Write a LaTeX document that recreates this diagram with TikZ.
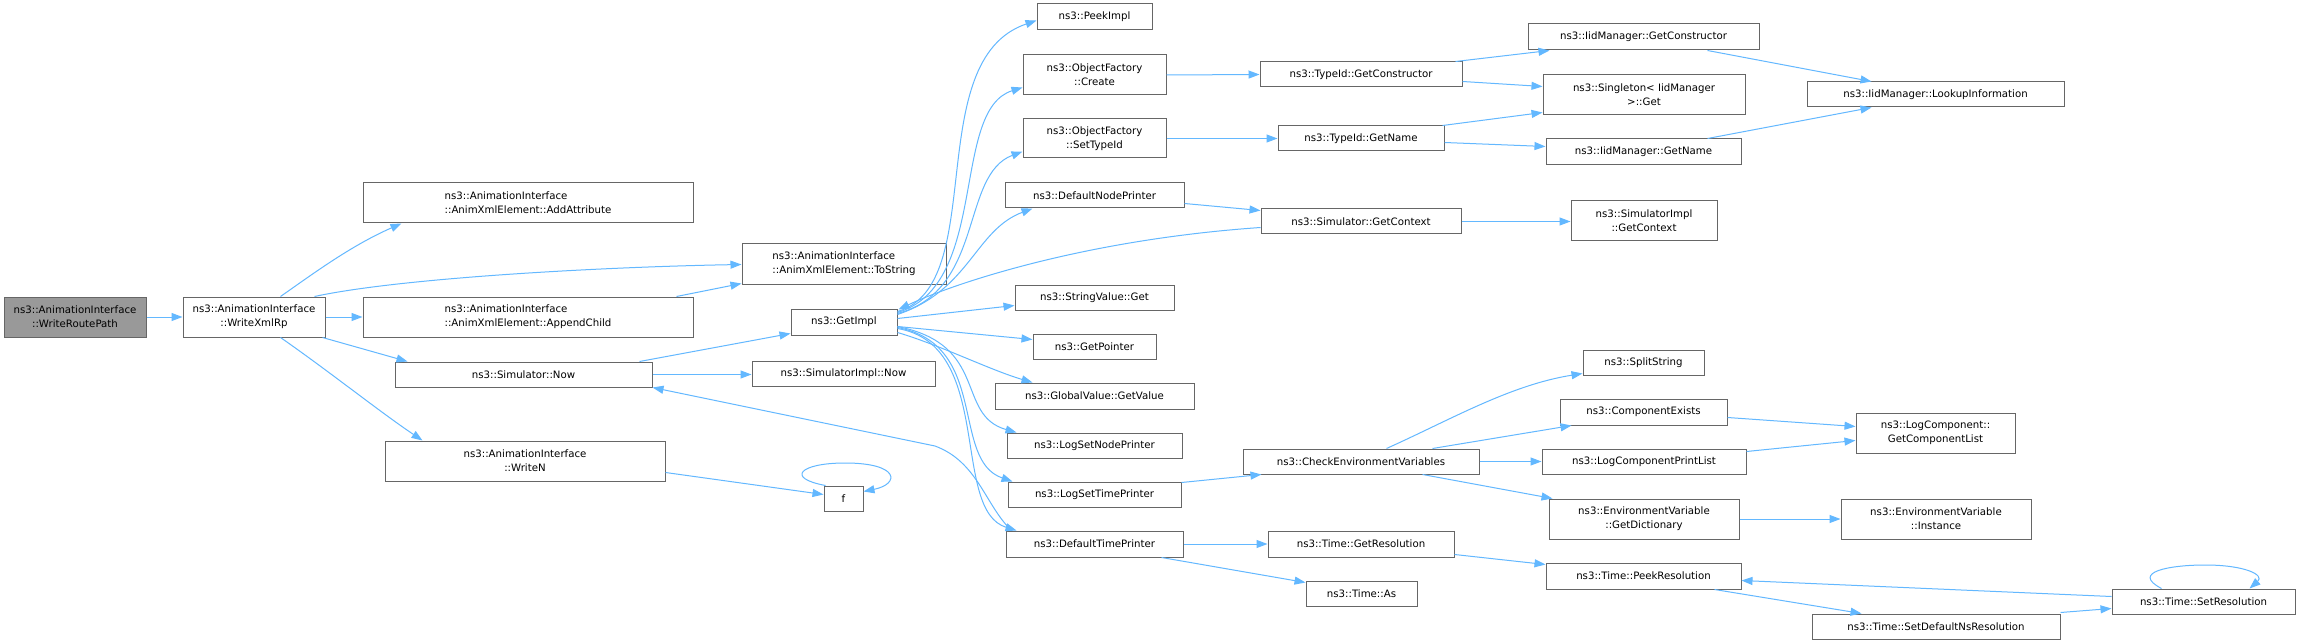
\documentclass[tikz,border=0pt]{standalone}
\usepackage{fontspec}
\setmainfont{DejaVu Sans}
\usetikzlibrary{arrows.meta,calc}
\definecolor{edgecol}{HTML}{63B8FF}
\definecolor{bordcol}{HTML}{666666}
\definecolor{rootfill}{HTML}{999999}
\newcommand\mkbox[7][]{%
  \node[box,#1,minimum width={#5-#3},minimum height={#6-#4}] (#2) at ({(#3+#5)/2},{(#4+#6)/2}) {#7};}
\tikzset{
  box/.style={draw=bordcol, fill=white, inner sep=0pt, line width=1pt, align=center,
    font=\fontsize{10.2}{14.3}\selectfont, text=black},
  rootbox/.style={fill=rootfill},
  edge/.style={draw=edgecol, line width=1pt, -{Triangle[length=11pt,width=8pt]}},
}
\begin{document}
\begin{tikzpicture}[x=1pt,y=-1pt]
\useasboundingbox[fill=white] (0,0) rectangle (2301,644);
% nodes
\mkbox[rootbox]{wrp}{4}{297}{146}{337}{ns3::AnimationInterface\\::WriteRoutePath}
\mkbox{wxr}{183}{297}{325}{337}{ns3::AnimationInterface\\::WriteXmlRp}
\mkbox[align=left]{addattr}{363}{183}{693}{223}{ns3::AnimationInterface\\::AnimXmlElement::AddAttribute}
\mkbox[align=left]{append}{363}{297}{693}{337}{ns3::AnimationInterface\\::AnimXmlElement::AppendChild}
\mkbox{now}{395}{362}{652}{387}{ns3::Simulator::Now}
\mkbox{writen}{385}{441}{665}{481}{ns3::AnimationInterface\\::WriteN}
\mkbox[align=left]{tostr}{742}{244}{946}{284}{ns3::AnimationInterface\\::AnimXmlElement::ToString}
\mkbox{getimpl}{791}{309}{897}{335}{ns3::GetImpl}
\mkbox{simnow}{752}{361}{935}{386}{ns3::SimulatorImpl::Now}
\mkbox{f}{824}{486}{863}{511}{f}
\mkbox{peek}{1037}{4}{1152}{30}{ns3::PeekImpl}
\mkbox{ofcreate}{1023}{55}{1166}{95}{ns3::ObjectFactory\\::Create}
\mkbox{ofset}{1023}{119}{1166}{158}{ns3::ObjectFactory\\::SetTypeId}
\mkbox{dnp}{1005}{183}{1184}{208}{ns3::DefaultNodePrinter}
\mkbox{sget}{1015}{285}{1174}{310}{ns3::StringValue::Get}
\mkbox{gptr}{1033}{334}{1156}{359}{ns3::GetPointer}
\mkbox{gval}{995}{383}{1194}{409}{ns3::GlobalValue::GetValue}
\mkbox{lsnp}{1007}{433}{1182}{458}{ns3::LogSetNodePrinter}
\mkbox{lstp}{1008}{482}{1181}{507}{ns3::LogSetTimePrinter}
\mkbox{dtp}{1006}{531}{1183}{557}{ns3::DefaultTimePrinter}
\mkbox{tgc}{1260}{62}{1462}{87}{ns3::TypeId::GetConstructor}
\mkbox{tgn}{1278}{126}{1444}{151}{ns3::TypeId::GetName}
\mkbox{gctx}{1261}{209}{1461}{234}{ns3::Simulator::GetContext}
\mkbox{cev}{1243}{449}{1479}{474}{ns3::CheckEnvironmentVariables}
\mkbox{tres}{1268}{531}{1454}{557}{ns3::Time::GetResolution}
\mkbox{tas}{1306}{581}{1417}{606}{ns3::Time::As}
\mkbox{igc}{1528}{24}{1759}{50}{ns3::IidManager::GetConstructor}
\mkbox{sing}{1543}{75}{1745}{115}{ns3::Singleton< IidManager\\>::Get}
\mkbox{ign}{1546}{139}{1741}{165}{ns3::IidManager::GetName}
\mkbox{sictx}{1571}{201}{1717}{241}{ns3::SimulatorImpl\\::GetContext}
\mkbox{lookup}{1807}{82}{2064}{107}{ns3::IidManager::LookupInformation}
\mkbox{split}{1583}{350}{1704}{375}{ns3::SplitString}
\mkbox{cex}{1560}{399}{1727}{425}{ns3::ComponentExists}
\mkbox{lcpl}{1542}{449}{1746}{474}{ns3::LogComponentPrintList}
\mkbox{gdict}{1549}{499}{1739}{539}{ns3::EnvironmentVariable\\::GetDictionary}
\mkbox{peekres}{1546}{563}{1741}{589}{ns3::Time::PeekResolution}
\mkbox{gcl}{1856}{413}{2015}{453}{ns3::LogComponent::\\GetComponentList}
\mkbox{inst}{1841}{499}{2031}{539}{ns3::EnvironmentVariable\\::Instance}
\mkbox{setres}{2112}{589}{2295}{614}{ns3::Time::SetResolution}
\mkbox{sdns}{1812}{614}{2060}{639}{ns3::Time::SetDefaultNsResolution}
% edges
\draw[edge] (wrp.east) -- (wxr.west);
\draw[edge] ($(wxr.north west)+(98,0)$) .. controls (310,276) and (350,246) .. ($(addattr.south west)+(39,0)$);
\draw[edge] ($(wxr.north west)+(132,0)$) .. controls (400,278) and (600,267) .. ($(tostr.north west)+(0,21)$);
\draw[edge] (wxr.east) -- (append.west);
\draw[edge] ($(wxr.south west)+(140,0)$) -- ($(now.north west)+(13,0)$);
\draw[edge] ($(wxr.south west)+(98,0)$) .. controls (330,372) and (380,412) .. ($(writen.north west)+(38,0)$);
\draw[edge] ($(append.north west)+(314,0)$) -- ($(tostr.south west)+(0,-1)$);
\draw[edge] ($(now.north west)+(245,0)$) -- ($(getimpl.south west)+(0,-2)$);
\draw[edge] (now.east) -- (simnow.west |- now.east);
\draw[edge] ($(dtp.north west)+(6,0)$) .. controls (985,505) and (978,462) .. (935,446) -- (now.south east);
\draw[edge] ($(writen.north east)+(0,32)$) -- ($(f.north west)+(0,9)$);
\draw[edge] ($(f.north west)+(2,0)$) .. controls (785,478) and (800,463) .. (845,463) .. controls (900,463) and (900,484) .. ($(f.north east)+(0,6)$);
% from GetImpl upward
\draw[edge] ($(getimpl.north east)+(0,3)$) .. controls (990,285) and (920,60) .. ($(peek.north west)+(0,17)$);
\draw[edge] ($(getimpl.north east)+(0,4)$) .. controls (990,285) and (950,110) .. ($(ofcreate.north west)+(0,33)$);
\draw[edge] ($(getimpl.north east)+(0,5)$) .. controls (985,290) and (960,175) .. ($(ofset.north west)+(0,33)$);
\draw[edge] ($(getimpl.north east)+(0,6)$) .. controls (970,290) and (975,230) .. ($(dnp.south west)+(28,0)$);
\draw[edge] ($(gctx.north west)+(0,19)$) .. controls (1080,240) and (950,285) .. ($(getimpl.north east)+(1,1)$);
\draw[edge] ($(getimpl.north east)+(0,10)$) -- ($(sget.north west)+(0,21)$);
\draw[edge] ($(getimpl.north east)+(0,18)$) -- ($(gptr.north west)+(0,6)$);
\draw[edge] ($(getimpl.north east)+(0,24)$) .. controls (940,345) and (990,370) .. ($(gval.north west)+(38,0)$);
\draw[edge] ($(getimpl.north east)+(0,18)$) .. controls (990,345) and (955,415) .. ($(lsnp.north west)+(10,0)$);
\draw[edge] ($(getimpl.north east)+(0,19)$) .. controls (990,345) and (950,460) .. ($(lstp.north west)+(5,0)$);
\draw[edge] ($(getimpl.north east)+(0,20)$) .. controls (995,345) and (950,510) .. ($(dtp.north west)+(11,0)$);
% right part
\draw[edge] (ofcreate.east) -- (tgc.west);
\draw[edge] (ofset.east) -- (tgn.west);
\draw[edge] ($(dnp.north east)+(0,21)$) -- ($(gctx.north west)+(0,2)$);
\draw[edge] ($(tgc.north east)+(-7,0)$) -- ($(igc.south west)+(22,0)$);
\draw[edge] ($(tgc.north east)+(0,20)$) -- ($(sing.north west)+(0,12)$);
\draw[edge] ($(tgn.north east)+(-2,0)$) -- ($(sing.south west)+(0,-3)$);
\draw[edge] ($(tgn.north east)+(0,17)$) -- ($(ign.north west)+(0,8)$);
\draw[edge] ($(igc.south west)+(180,0)$) -- ($(lookup.north west)+(65,0)$);
\draw[edge] ($(ign.north west)+(162,0)$) -- ($(lookup.south west)+(65,0)$);
\draw[edge] (gctx.east) -- (sictx.west |- gctx.east);
\draw[edge] ($(lstp.north east)+(0,1)$) -- ($(cev.south west)+(19,0)$);
\draw[edge] ($(cev.north west)+(144,0)$) .. controls (1450,420) and (1510,385) .. ($(split.south west)+(0,-2)$);
\draw[edge] ($(cev.north west)+(190,0)$) -- ($(cex.south west)+(12,0)$);
\draw[edge] (cev.east) -- (lcpl.west);
\draw[edge] ($(cev.south west)+(180,0)$) -- ($(gdict.north west)+(4,0)$);
\draw[edge] ($(cex.north east)+(0,19)$) -- ($(gcl.north west)+(0,14)$);
\draw[edge] ($(lcpl.north east)+(0,3)$) -- ($(gcl.north west)+(0,28)$);
\draw[edge] (gdict.east) -- (inst.west);
\draw[edge] (dtp.east) -- (tres.west);
\draw[edge] ($(dtp.south west)+(156,0)$) -- ($(tas.north west)+(0,2)$);
\draw[edge] ($(tres.north east)+(0,24)$) -- ($(peekres.north west)+(0,2)$);
\draw[edge] ($(peekres.south west)+(169,0)$) -- ($(sdns.north west)+(50,0)$);
\draw[edge] ($(sdns.north east)+(0,-1)$) -- ($(setres.north west)+(0,20)$);
\draw[edge] ($(setres.north west)+(0,8)$) -- ($(peekres.north east)+(0,18)$);
\draw[edge] ($(setres.north west)+(50,0)$) .. controls (2130,572) and (2170,565) .. (2205,565) .. controls (2245,565) and (2265,575) .. ($(setres.north west)+(138,0)$);
\end{tikzpicture}
\end{document}
